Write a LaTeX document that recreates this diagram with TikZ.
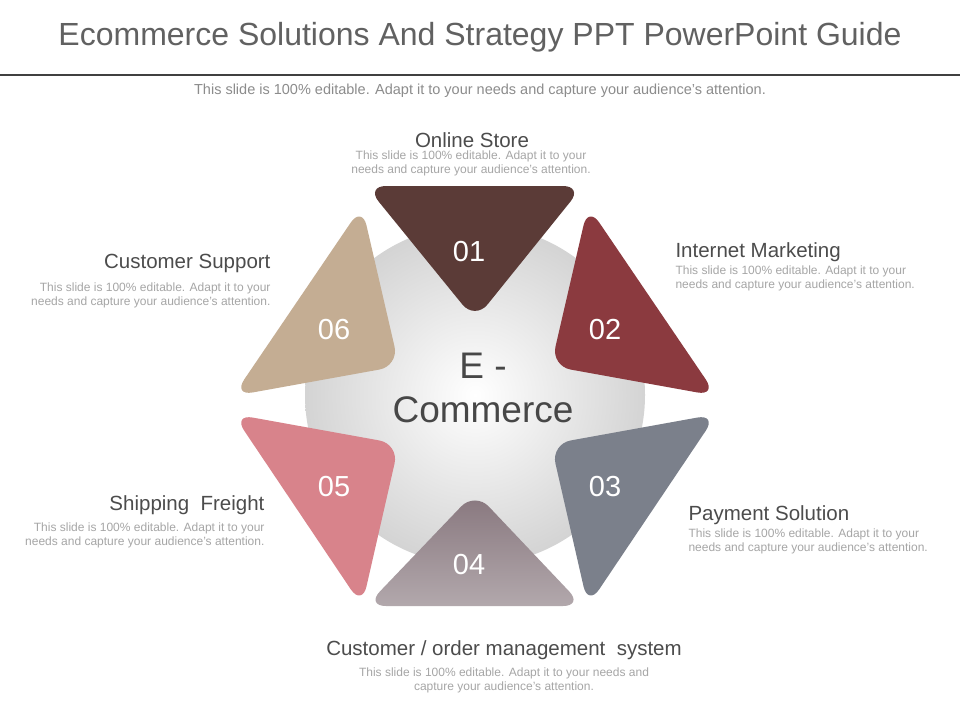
\documentclass[tikz,border=0pt]{standalone}
\usepackage{fontspec}
\setmainfont{Liberation Sans}
\begin{document}
\begin{tikzpicture}[x=1pt,y=-1pt,
  tri/.style={rounded corners=20pt, draw=none},
  num/.style={text=white,font=\fontsize{29}{29}\selectfont},
  head/.style={text=black!70,font=\fontsize{20.5}{22}\selectfont},
  desc/.style={text=black!35,font=\fontsize{12}{14}\selectfont}]
\useasboundingbox (0,0) rectangle (960,720);
\fill[white] (0,0) rectangle (960,720);
\node[text=black!62,font=\fontsize{32}{34}\selectfont] (title) at (480,37) {Ecommerce Solutions And Strategy PPT PowerPoint Guide};
\draw[black!75,line width=1.5pt] (0,75) -- (960,75);
\node[text=black!45,font=\fontsize{14.5}{16}\selectfont] (sub) at (480,91) {This slide is 100\% editable. Adapt it to your needs and capture your audience's attention.};
\shade[inner color=white,outer color=black!17] (475,395) circle (170);
\fill[tri,fill={rgb,255:red,91;green,59;blue,55}] (366,186) -- (583,186) -- (475,320) -- cycle;
\fill[tri,fill={rgb,255:red,139;green,58;blue,63}] (588,206) -- (717,396) -- (551,366) -- cycle;
\fill[tri,fill={rgb,255:red,123;green,128;blue,139}] (717,414) -- (588,606) -- (551,444) -- cycle;
\shade[tri,top color={rgb,255:red,135;green,118;blue,125},bottom color={rgb,255:red,178;green,168;blue,172}] (475,492) -- (583,606) -- (366,606) -- cycle;
\fill[tri,fill={rgb,255:red,216;green,131;blue,139}] (233,414) -- (399,444) -- (362,606) -- cycle;
\fill[tri,fill={rgb,255:red,196;green,173;blue,147}] (362,206) -- (399,366) -- (233,396) -- cycle;
\node[num] (n1) at (469,252) {01};
\node[num] (n2) at (605,330) {02};
\node[num] (n3) at (605,487) {03};
\node[num] (n4) at (469,565) {04};
\node[num] (n5) at (334,487) {05};
\node[num] (n6) at (334,330) {06};
\node[text=black!72,font=\fontsize{37}{44}\selectfont,align=center] (c) at (483,388) {E -\\Commerce};
\node[head] (h1) at (472,140) {Online Store};
\node[desc,align=center] (d1) at (471,163) {This slide is 100\% editable. Adapt it to your\\needs and capture your audience's attention.};
\node[head,anchor=west] (h2) at (672,252) {Internet Marketing};
\node[desc,align=left,anchor=west] (d2) at (672,278) {This slide is 100\% editable. Adapt it to your\\needs and capture your audience's attention.};
\node[head,anchor=east] (h6) at (274,263) {Customer Support};
\node[desc,align=right,anchor=east] (d6) at (274,295) {This slide is 100\% editable. Adapt it to your\\needs and capture your audience's attention.};
\node[head,anchor=east] (h5) at (268,505) {Shipping\ \ Freight};
\node[desc,align=right,anchor=east] (d5) at (268,535) {This slide is 100\% editable. Adapt it to your\\needs and capture your audience's attention.};
\node[head,anchor=west] (h3) at (685,515) {Payment Solution};
\node[desc,align=left,anchor=west] (d3) at (685,541) {This slide is 100\% editable. Adapt it to your\\needs and capture your audience's attention.};
\node[head] (h4) at (504,650) {Customer / order management\ \ system};
\node[desc,align=center] (d4) at (504,680) {This slide is 100\% editable. Adapt it to your needs and\\capture your audience's attention.};
\end{tikzpicture}
\end{document}
